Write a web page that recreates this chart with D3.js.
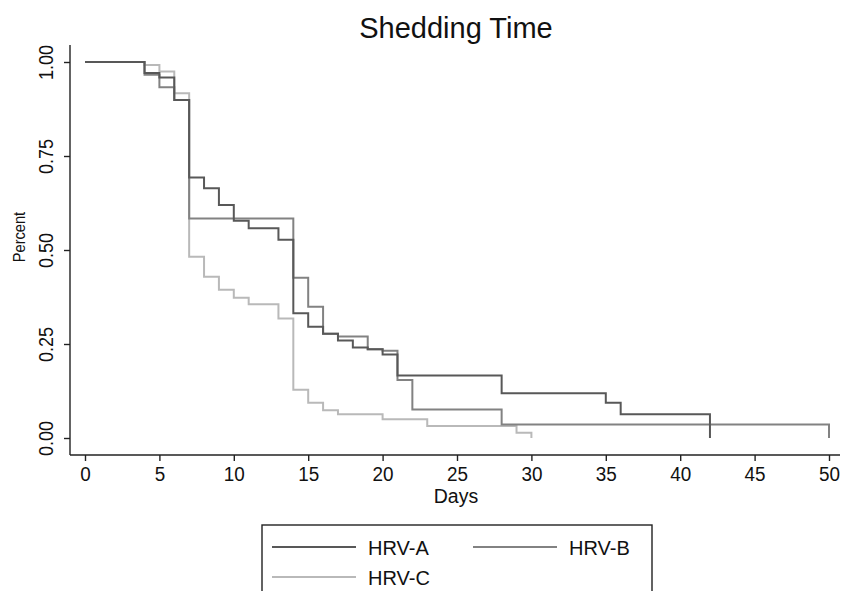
<!DOCTYPE html>
<html>
<head>
<meta charset="utf-8">
<script src="https://cdn.jsdelivr.net/npm/d3@7"></script>
<style>
  body { margin: 0; background: #fff; }
  svg { font-family: "Liberation Sans", Arial, sans-serif; }
</style>
</head>
<body>
<div id="chart"></div>
<script>
// Kaplan-Meier style step data
var hrvADays = [0, 4, 5, 6, 7, 8, 9, 10, 11, 13, 14, 15, 16, 17, 18, 19, 20, 21, 28, 35, 36, 42];
var hrvAPct  = [1, 0.971, 0.959, 0.899, 0.693, 0.664, 0.62, 0.578, 0.558, 0.527, 0.332, 0.296, 0.277, 0.259, 0.241, 0.236, 0.222, 0.166, 0.119, 0.094, 0.063, 0];

var hrvBDays = [0, 4, 5, 6, 7, 14, 15, 16, 17, 19, 20, 21, 22, 28, 50];
var hrvBPct  = [1, 0.966, 0.933, 0.899, 0.584, 0.426, 0.349, 0.277, 0.27, 0.236, 0.232, 0.154, 0.076, 0.036, 0];

var hrvCDays = [0, 4, 5, 6, 7, 8, 9, 10, 11, 13, 14, 15, 16, 17, 20, 23, 29, 30];
var hrvCPct  = [1, 0.992, 0.975, 0.917, 0.482, 0.429, 0.394, 0.373, 0.356, 0.318, 0.128, 0.094, 0.074, 0.063, 0.05, 0.032, 0.014, 0];

var seriesNames = ["HRV-A", "HRV-B", "HRV-C"];
var xTicks = [0, 5, 10, 15, 20, 25, 30, 35, 40, 45, 50];
var yTicks = [0, 0.25, 0.5, 0.75, 1];

var width = 843, height = 591;
var colors = {"HRV-A": "#585858", "HRV-B": "#828282", "HRV-C": "#b9b9b9"};

function zipSeries(days, pct) {
    return days.map(function(d, i) { return {day: d, pct: pct[i]}; });
}
var series = [
    {name: "HRV-A", values: zipSeries(hrvADays, hrvAPct)},
    {name: "HRV-B", values: zipSeries(hrvBDays, hrvBPct)},
    {name: "HRV-C", values: zipSeries(hrvCDays, hrvCPct)}
];

var svg = d3.select("#chart").append("svg")
    .attr("width", width)
    .attr("height", height);

var x = d3.scaleLinear().domain([0, 50]).range([85, 829]);
var y = d3.scaleLinear().domain([0, 1]).range([438, 62]);

var axisLeft = 70, axisBottom = 455;

// title
svg.append("text")
    .attr("x", 456).attr("y", 38)
    .attr("text-anchor", "middle")
    .attr("font-size", 29)
    .attr("fill", "#111")
    .text("Shedding Time");

// y axis
var yAxis = svg.append("g")
    .attr("transform", "translate(" + axisLeft + ",0)")
    .call(d3.axisLeft(y).tickValues(yTicks).tickFormat(d3.format(".2f")).tickSize(6).tickPadding(0));
yAxis.select(".domain").remove();
yAxis.selectAll(".tick line").attr("stroke", "#222").attr("stroke-width", 1.4);
yAxis.selectAll(".tick text")
    .attr("x", 0).attr("dy", 0)
    .attr("transform", "translate(-17,0) rotate(-90) scale(0.86,1)")
    .attr("text-anchor", "middle")
    .attr("font-size", 21)
    .attr("font-family", "Liberation Sans, Arial, sans-serif")
    .attr("fill", "#111");
svg.append("line")
    .attr("x1", axisLeft).attr("x2", axisLeft)
    .attr("y1", 45).attr("y2", axisBottom)
    .attr("stroke", "#222").attr("stroke-width", 1.4);

// x axis
var xAxis = svg.append("g")
    .attr("transform", "translate(0," + axisBottom + ")")
    .call(d3.axisBottom(x).tickValues(xTicks).tickSize(6).tickPadding(5));
xAxis.select(".domain").remove();
xAxis.selectAll(".tick line").attr("stroke", "#222").attr("stroke-width", 1.4);
xAxis.selectAll(".tick text")
    .attr("transform", "scale(0.9,1)")
    .attr("font-size", 21)
    .attr("font-family", "Liberation Sans, Arial, sans-serif")
    .attr("fill", "#111");
svg.append("line")
    .attr("x1", axisLeft).attr("x2", 840)
    .attr("y1", axisBottom).attr("y2", axisBottom)
    .attr("stroke", "#222").attr("stroke-width", 1.4);

// axis titles
svg.append("text")
    .attr("transform", "translate(25,237) rotate(-90) scale(0.86,1)")
    .attr("text-anchor", "middle")
    .attr("font-size", 17)
    .attr("fill", "#111")
    .text("Percent");
svg.append("text")
    .attr("x", 456).attr("y", 503)
    .attr("text-anchor", "middle")
    .attr("font-size", 19.5)
    .attr("fill", "#111")
    .text("Days");

// survival curves
var line = d3.line()
    .curve(d3.curveStepAfter)
    .x(function(d) { return x(d.day); })
    .y(function(d) { return y(d.pct); });

svg.append("g").selectAll("path")
    .data(series.slice().reverse())
    .enter().append("path")
    .attr("fill", "none")
    .attr("stroke", function(d) { return colors[d.name]; })
    .attr("stroke-width", 2)
    .attr("d", function(d) { return line(d.values); });

// legend
var legend = svg.append("g");
legend.append("rect")
    .attr("x", 262).attr("y", 525)
    .attr("width", 390).attr("height", 80)
    .attr("fill", "#fff")
    .attr("stroke", "#222").attr("stroke-width", 1.4);

var legendPos = [
    {x: 272, y: 547},
    {x: 473, y: 547},
    {x: 272, y: 577}
];
seriesNames.forEach(function(name, i) {
    var p = legendPos[i];
    legend.append("line")
        .attr("x1", p.x).attr("x2", p.x + 84)
        .attr("y1", p.y).attr("y2", p.y)
        .attr("stroke", colors[name]).attr("stroke-width", 2);
    legend.append("text")
        .attr("x", p.x + 96).attr("y", p.y + 8)
        .attr("font-size", 20)
        .attr("fill", "#111")
        .text(name);
});
</script>
</body>
</html>
